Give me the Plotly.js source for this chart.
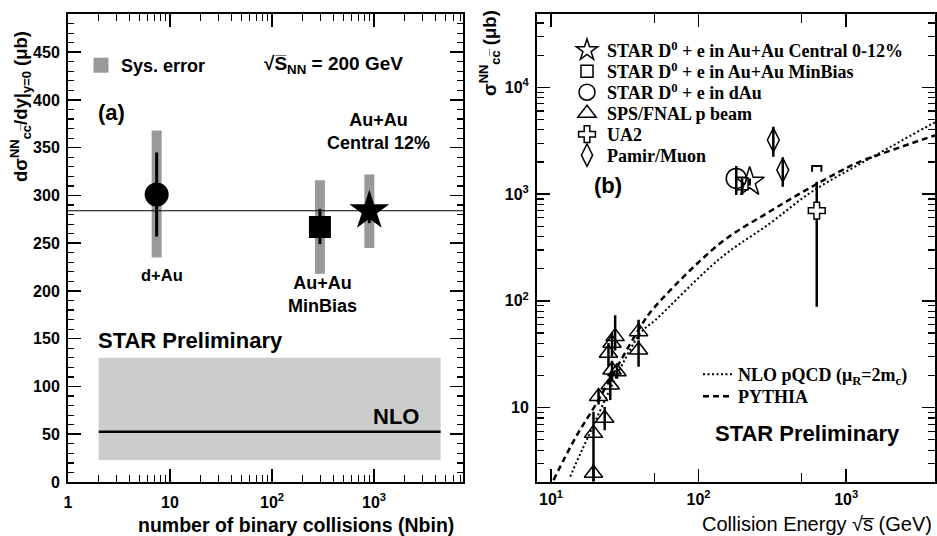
<!DOCTYPE html>
<html><head><meta charset="utf-8">
<script src="https://cdn.plot.ly/plotly-3.0.1.min.js"></script>
<style>html,body{margin:0;padding:0;background:#fff}#chart{width:937px;height:536px}</style>
</head><body><div id="chart"></div>
<script>
// ---------- Panel (a) data ----------
const aCategories = ['d+Au', 'Au+Au MinBias', 'Au+Au Central 12%'];
const aNbin = [7.4, 295, 900];
const aValue = [301, 267, 284];
const aStatPlus = [44, 19, 14];
const aStatMinus = [44, 18, 13];
const aSysPlus = [67, 49, 38];
const aSysMinus = [66, 49, 39];
const aAverage = [284];
const nloBandNbin = [2, 4500];
const nloBandLow = [23];
const nloBandHigh = [130];
const nloCentral = [52.5];

// ---------- Panel (b) data ----------
const starCentralE = [222];
const starCentralSigma = [1300];
const starCentralErr = [100];
const starMinBiasE = [197];
const starMinBiasSigma = [1250];
const starMinBiasErrPlus = [150];
const starMinBiasErrMinus = [270];
const starDAuE = [180];
const starDAuSigma = [1400];
const starDAuErrPlus = [435];
const starDAuErrMinus = [420];
const spsE = [19.4, 19.4, 23.1, 21.0, 25.2, 25.9, 28.0, 24.5, 25.9, 27.2, 39.2, 39.2];
const spsSigma = [2.43, 5.75, 7.95, 12.7, 16.3, 22.5, 21.7, 32.3, 40.1, 46.3, 51.5, 34.7];
const spsErrPlus = [0.5, 3.4, 2.2, 2.0, 4.5, 5, 3, 8, 10, 27, 15, 8];
const spsErrMinus = [0.4, 3.7, 1.8, 2.0, 4.5, 5, 3, 8, 10, 12, 8, 10.5];
const ua2E = [632];
const ua2Sigma = [700];
const ua2ErrPlus = [606];
const ua2ErrMinus = [612];
const ua2BracketLow = [1620];
const ua2BracketHigh = [1830];
const pamirE = [321, 372];
const pamirSigma = [3210, 1683];
const pamirErrPlus = [1060, 530];
const pamirErrMinus = [970, 510];
const nloE = [13.5, 16.2, 40.3, 50.9, 140, 305, 585, 1453, 3700, 4000];
const nloSigma = [2.26, 4.0, 49.8, 66, 250, 533, 1052, 2163, 4440, 4700];
const pythiaE = [10.4, 14.6, 20, 40.3, 49.5, 140, 290, 541, 1000, 1242, 4000];
const pythiaSigma = [2.1, 5.2, 10.6, 57, 85, 346, 661, 1100, 1750, 2010, 3550];

// ---------- layout helpers ----------
const W = 937, H = 536;
const px = x => x / W;
const py = y => 1 - y / H;
const SANS = 'Liberation Sans, Arial, Helvetica, sans-serif';
const SERIF = 'Liberation Serif, Times New Roman, serif';

const traces = [];
const A = {xaxis: 'x', yaxis: 'y'};
const B = {xaxis: 'x2', yaxis: 'y2'};

// NLO band + line (panel a)
traces.push(Object.assign({
  type: 'scatter', mode: 'lines',
  x: [nloBandNbin[0], nloBandNbin[1], nloBandNbin[1], nloBandNbin[0]],
  y: [nloBandLow[0], nloBandLow[0], nloBandHigh[0], nloBandHigh[0]],
  fill: 'toself', fillcolor: '#cccccc', line: {width: 0, color: 'rgba(0,0,0,0)'},
  showlegend: false, hoverinfo: 'skip'
}, A));
traces.push(Object.assign({
  type: 'scatter', mode: 'lines',
  x: nloBandNbin, y: nloBandNbin.map(() => nloCentral[0]),
  line: {color: 'black', width: 2.5}, showlegend: false
}, A));
// systematic error bars
traces.push(Object.assign({
  type: 'scatter', mode: 'markers', x: aNbin, y: aValue,
  marker: {size: 1, opacity: 0},
  error_y: {type: 'data', symmetric: false, array: aSysPlus, arrayminus: aSysMinus,
            thickness: 10, width: 0, color: '#999999'},
  showlegend: false
}, A));
// legend entry for Sys. error
traces.push(Object.assign({
  type: 'scatter', mode: 'markers', x: [null], y: [null], name: 'Sys. error',
  marker: {symbol: 'square', size: 15, color: '#999999'}, legend: 'legend'
}, A));
const aSymbols = ['circle', 'square', 'star'];
const aSizes = [24, 22, 30];
aNbin.forEach((n, i) => {
  traces.push(Object.assign({
    type: 'scatter', mode: 'markers', x: [n], y: [aValue[i]], name: aCategories[i],
    marker: {symbol: aSymbols[i], size: aSizes[i], color: 'black'},
    error_y: {type: 'data', symmetric: false, array: [aStatPlus[i]], arrayminus: [aStatMinus[i]],
              thickness: 3, width: 0, color: 'black'},
    showlegend: false
  }, A));
});

// ---------- Panel (b) ----------
traces.push(Object.assign({
  type: 'scatter', mode: 'lines', x: nloE, y: nloSigma, line: {shape: 'spline', color: 'black', width: 2, dash: '2px,2.5px'},
  name: 'NLO pQCD (μ<sub>R</sub>=2m<sub>c</sub>)', legend: 'legend8'
}, B));
traces.push(Object.assign({
  type: 'scatter', mode: 'lines', x: pythiaE, y: pythiaSigma, line: {shape: 'spline', color: 'black', width: 2.5, dash: '6px,4px'},
  name: 'PYTHIA', legend: 'legend9'
}, B));

const openMarker = (symbol, size) => ({symbol: symbol, size: size, color: 'black', line: {color: 'black', width: 1.5}});
const errBar = (plus, minus) => ({type: 'data', symmetric: false, array: plus, arrayminus: minus, thickness: 2.5, width: 0, color: 'black'});

traces.push(Object.assign({
  type: 'scatter', mode: 'markers', x: starCentralE, y: starCentralSigma,
  name: 'STAR D<sup>0</sup> + e in Au+Au Central 0-12%', legend: 'legend2',
  marker: openMarker('star-open', 22), error_y: errBar(starCentralErr, starCentralErr)
}, B));
traces.push(Object.assign({
  type: 'scatter', mode: 'markers', x: starMinBiasE, y: starMinBiasSigma,
  name: 'STAR D<sup>0</sup> + e in Au+Au MinBias', legend: 'legend3',
  marker: openMarker('square-open', 12), error_y: errBar(starMinBiasErrPlus, starMinBiasErrMinus)
}, B));
traces.push(Object.assign({
  type: 'scatter', mode: 'markers', x: starDAuE, y: starDAuSigma,
  name: 'STAR D<sup>0</sup> + e in dAu', legend: 'legend4',
  marker: openMarker('circle-open', 20), error_y: errBar(starDAuErrPlus, starDAuErrMinus)
}, B));
traces.push(Object.assign({
  type: 'scatter', mode: 'markers', x: spsE, y: spsSigma,
  name: 'SPS/FNAL p beam', legend: 'legend5',
  marker: openMarker('triangle-up-open', 16), error_y: errBar(spsErrPlus, spsErrMinus)
}, B));
traces.push(Object.assign({
  type: 'scatter', mode: 'markers', x: ua2E, y: ua2Sigma,
  name: 'UA2', legend: 'legend6',
  marker: {symbol: 'cross', size: 14, color: 'white', line: {color: 'black', width: 1.5}},
  error_y: errBar(ua2ErrPlus, ua2ErrMinus)
}, B));
traces.push(Object.assign({
  type: 'scatter', mode: 'markers', x: pamirE, y: pamirSigma,
  name: 'Pamir/Muon', legend: 'legend7',
  marker: openMarker('diamond-tall-open', 17), error_y: errBar(pamirErrPlus, pamirErrMinus)
}, B));
// UA2 upper bracket
const bx0 = ua2E[0] * 0.93, bx1 = ua2E[0] * 1.075;
traces.push(Object.assign({
  type: 'scatter', mode: 'lines',
  x: [bx0, bx0, bx1, bx1], y: [ua2BracketLow[0], ua2BracketHigh[0], ua2BracketHigh[0], ua2BracketLow[0]],
  line: {color: 'black', width: 2}, showlegend: false
}, B));

const baseAxis = {
  showline: true, linewidth: 2, linecolor: 'black', mirror: 'allticks',
  ticks: 'inside', tickcolor: 'black', tickwidth: 1.5, showgrid: false, zeroline: false,
  tickfont: {family: SANS, size: 16, color: 'black', weight: 'bold'}, fixedrange: true
};

// legend boxes: one row each, placed where the reference rows are
const legendBox = (x, yTop, fam, size) => ({
  x: px(x), y: py(yTop), xanchor: 'left', yanchor: 'top', bgcolor: 'rgba(0,0,0,0)', borderwidth: 0,
  font: {family: fam, size: size, color: 'black', weight: 'bold'}, itemsizing: 'trace'
});
const rowCenters = [49, 70, 91, 112, 133, 154];

const layout = {
  width: W, height: H,
  margin: {l: 0, r: 0, t: 0, b: 0},
  paper_bgcolor: 'white', plot_bgcolor: 'white',
  font: {family: SANS, size: 16, color: 'black', weight: 'bold'},
  xaxis: Object.assign({}, baseAxis, {
    type: 'log', domain: [px(68), px(463)], range: [0, 3.8725], anchor: 'y',
    tickvals: [1, 10, 100, 1000], ticktext: ['1', '10', '10<sup>2</sup>', '10<sup>3</sup>'],
    ticklen: 13, ticklabelstandoff: 5,
    minor: {dtick: 'D1', ticks: 'inside', ticklen: 7, tickwidth: 1.2, tickcolor: 'black', showgrid: false}
  }),
  yaxis: Object.assign({}, baseAxis, {
    domain: [py(482), py(14)], range: [0, 490], anchor: 'x',
    tickvals: [0, 50, 100, 150, 200, 250, 300, 350, 400, 450],
    ticklen: 13, ticklabelstandoff: 3,
    minor: {dtick: 10, ticks: 'inside', ticklen: 6, tickwidth: 1.2, tickcolor: 'black', showgrid: false}
  }),
  xaxis2: Object.assign({}, baseAxis, {
    type: 'log', domain: [px(537), px(935)], range: [0.905, 3.602], anchor: 'y2',
    tickvals: [10, 100, 1000], ticktext: ['10<sup>1</sup>', '10<sup>2</sup>', '10<sup>3</sup>'],
    ticklen: 13, ticklabelstandoff: 2,
    minor: {tickvals: [50, 500], ticks: 'inside', ticklen: 9, tickwidth: 1.2, tickcolor: 'black', showgrid: false}
  }),
  yaxis2: Object.assign({}, baseAxis, {
    type: 'log', domain: [py(481.7), py(14)], range: [0.307, 4.686], anchor: 'x2',
    tickvals: [10, 100, 1000, 10000], ticktext: ['10', '10<sup>2</sup>', '10<sup>3</sup>', '10<sup>4</sup>'],
    ticklen: 13, ticklabelstandoff: 3,
    minor: {dtick: 'D1', ticks: 'inside', ticklen: 7, tickwidth: 1.2, tickcolor: 'black', showgrid: false}
  }),
  shapes: [
    {type: 'line', xref: 'x domain', yref: 'y', x0: 0, x1: 1, y0: aAverage[0], y1: aAverage[0],
     line: {color: 'black', width: 1.2}, layer: 'above'}
  ],
  legend: legendBox(81, 47, SANS, 18),
  legend2: legendBox(567, rowCenters[0] - 17, SERIF, 18),
  legend3: legendBox(567, rowCenters[1] - 17, SERIF, 18),
  legend4: legendBox(567, rowCenters[2] - 17, SERIF, 18),
  legend5: legendBox(567, rowCenters[3] - 17, SERIF, 18),
  legend6: legendBox(567, rowCenters[4] - 17, SERIF, 18),
  legend7: legendBox(567, rowCenters[5] - 17, SERIF, 18),
  legend8: legendBox(698, 373 - 17, SERIF, 18),
  legend9: legendBox(698, 395 - 17, SERIF, 18),
  annotations: [
    {text: 'dσ<sup>NN</sup><sub>cc̅</sub>/dy|<sub>y=0</sub> (μb)', textangle: -90, xref: 'paper', yref: 'paper',
     x: px(20), y: py(107), xanchor: 'center', yanchor: 'middle', showarrow: false, font: {size: 18.5}},
    {text: 'number of binary collisions (Nbin)', xref: 'paper', yref: 'paper', x: px(456), y: py(525),
     xanchor: 'right', yanchor: 'middle', showarrow: false, font: {size: 19.5}},
    {text: '√S̅<sub>NN</sub> = 200 GeV', xref: 'paper', yref: 'paper', x: px(333), y: py(65),
     xanchor: 'center', yanchor: 'middle', showarrow: false, font: {size: 19}},
    {text: '(a)', xref: 'paper', yref: 'paper', x: px(111), y: py(113), xanchor: 'center', yanchor: 'middle', showarrow: false, font: {size: 22}},
    {text: 'Au+Au<br>Central 12%', xref: 'paper', yref: 'paper', x: px(378), y: py(132), xanchor: 'center', yanchor: 'middle', showarrow: false, font: {size: 18}},
    {text: 'd+Au', xref: 'paper', yref: 'paper', x: px(162), y: py(275), xanchor: 'center', yanchor: 'middle', showarrow: false, font: {size: 16.5}},
    {text: 'Au+Au<br>MinBias', xref: 'paper', yref: 'paper', x: px(322), y: py(294), xanchor: 'center', yanchor: 'middle', showarrow: false, font: {size: 18}},
    {text: 'STAR Preliminary', xref: 'paper', yref: 'paper', x: px(190), y: py(340), xanchor: 'center', yanchor: 'middle', showarrow: false, font: {size: 22}},
    {text: 'NLO', xref: 'paper', yref: 'paper', x: px(396), y: py(416), xanchor: 'center', yanchor: 'middle', showarrow: false, font: {size: 22}},
    {text: 'σ<sup>NN</sup><sub>cc̅</sub> (μb)', textangle: -90, xref: 'paper', yref: 'paper',
     x: px(490), y: py(53), xanchor: 'center', yanchor: 'middle', showarrow: false, font: {size: 18.5}},
    {text: '(b)', xref: 'paper', yref: 'paper', x: px(608), y: py(186), xanchor: 'center', yanchor: 'middle', showarrow: false, font: {size: 22}},
    {text: 'STAR Preliminary', xref: 'paper', yref: 'paper', x: px(807), y: py(433), xanchor: 'center', yanchor: 'middle', showarrow: false, font: {size: 22}},
    {text: 'Collision Energy √s̅ (GeV)', xref: 'paper', yref: 'paper', x: px(934), y: py(524),
     xanchor: 'right', yanchor: 'middle', showarrow: false, font: {size: 20, weight: 'normal'}}
  ]
};

Plotly.newPlot('chart', traces, layout, {displayModeBar: false, staticPlot: true});
</script>
</body></html>
